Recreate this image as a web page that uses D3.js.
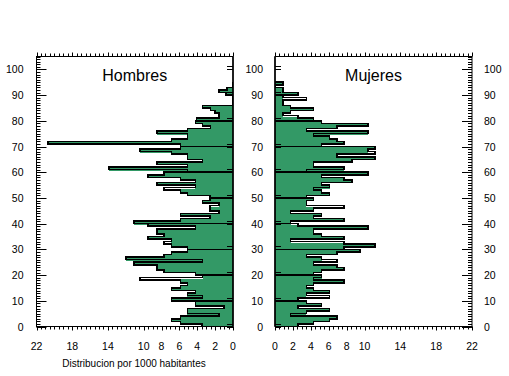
<!DOCTYPE html>
<html lang="en">
<head>
<meta charset="utf-8">
<title>Piramide</title>
<script type="text/javascript" src="https://cdn.jsdelivr.net/npm/d3@7"></script>
<style>
  body { margin: 0; background: #fff; }
  text { font-family: "Liberation Sans", Arial, sans-serif; fill: #000; }
</style>
</head>
<body>
<script type="text/javascript">

// values per single year of age, 0..94 (per 1000 inhabitants)
let hombres = [3.5, 5.9, 6.9, 5.9, 1.6, 5.1, 5.1, 1.0, 4.2, 4.2,
  6.9, 3.4, 5.1, 4.2, 6.9, 5.9, 5.1, 5.9, 10.4, 3.4,
  4.2, 7.7, 8.5, 8.5, 11.1, 3.4, 12.0, 7.7, 6.9, 5.1,
  5.1, 6.9, 7.7, 6.9, 9.5, 7.7, 8.5, 8.5, 4.2, 9.5,
  11.1, 5.9, 2.6, 5.9, 1.6, 2.6, 2.6, 1.6, 3.4, 2.6,
  2.6, 5.1, 5.9, 7.7, 4.2, 8.5, 4.2, 5.9, 9.5, 7.7,
  5.1, 13.9, 5.1, 8.5, 3.4, 5.1, 5.1, 6.9, 10.4, 5.9,
  5.9, 20.7, 6.9, 5.1, 5.1, 8.5, 5.1, 2.5, 3.4, 4.2,
  4.1, 1.6, 1.6, 2.0, 2.5, 3.4, 0, 0, 0, 0,
  0.8, 1.6, 0.7, 0, 0];

let mujeres = [2.6, 4.3, 6.1, 6.9, 1.75, 3.5, 6.1, 2.6, 5.2, 3.5,
  2.6, 6.1, 3.5, 6.1, 4.3, 3.5, 4.3, 7.7, 4.3, 5.2,
  4.3, 5.2, 7.7, 6.9, 4.3, 6.9, 5.2, 3.5, 6.9, 9.5,
  7.7, 11.2, 7.7, 1.75, 7.7, 5.2, 4.3, 4.3, 10.4, 2.6,
  1.75, 7.7, 4.3, 5.2, 1.75, 4.3, 7.7, 3.5, 3.5, 4.3,
  3.5, 6.1, 5.2, 4.3, 6.1, 5.2, 8.6, 7.7, 5.2, 10.4,
  3.5, 7.7, 4.3, 4.3, 8.6, 11.2, 6.9, 11.2, 10.4, 11.2,
  5.2, 7.7, 6.9, 6.1, 4.3, 10.4, 3.5, 6.9, 10.4, 5.2,
  4.3, 2.6, 0.9, 1.75, 4.3, 1.75, 0.9, 0.9, 3.5, 0.9,
  2.6, 0.9, 0.9, 0, 0.9];

let xTicks = [0, 2, 4, 6, 8, 10, 14, 18, 22];
let yTicks = [0, 10, 20, 30, 40, 50, 60, 70, 80, 90, 100];
let titles = ["Hombres", "Mujeres"];
let xLabel = "Distribucion por 1000 habitantes";

let w = 509;
let h = 376;
let plotTop = 56.5;
let plotBottom = 326.5;
let green = "#339966";

let svg = d3.select("body")
  .append("svg")
  .attr("width", w)
  .attr("height", h);

let yScale = d3.scaleLinear()
  .domain([0, 105])
  .range([plotBottom, plotTop]);

function drawPanel(values, x0, x1, reversed, title, idx) {

  let xScale = d3.scaleLinear()
    .domain([0, 22])
    .range(reversed ? [x1, x0] : [x0, x1]);
  let base = xScale(0);

  let g = svg.append("g");

  g.append("clipPath")
    .attr("id", "clip" + idx)
    .append("rect")
    .attr("x", x0).attr("y", plotTop)
    .attr("width", x1 - x0).attr("height", plotBottom - plotTop);

  let plot = g.append("g").attr("clip-path", "url(#clip" + idx + ")");

  // step points: each age covers [i, i+1]
  let pts = [];
  values.forEach((v, i) => { pts.push([v, i]); pts.push([v, i + 1]); });

  // fill, shifted a bit lower than the outline (as in the original plot)
  let shift = 0.35;
  let area = d3.area()
    .x0(base)
    .x1((d) => xScale(d[0]))
    .y((d) => yScale(d[1] - shift));
  plot.append("path")
    .attr("d", area(pts))
    .attr("fill", green)
    .attr("shape-rendering", "crispEdges");

  // step outline
  let line = d3.line()
    .x((d) => xScale(d[0]))
    .y((d) => yScale(d[1]));
  plot.append("path")
    .attr("d", line([[0, 0]].concat(pts, [[0, values.length]])))
    .attr("fill", "none")
    .attr("stroke", "#000")
    .attr("stroke-width", 1.6)
    .attr("shape-rendering", "crispEdges");

  // lines at each decade across the bars
  plot.selectAll("line.dec")
    .data(yTicks.filter((t) => t < values.length))
    .enter()
    .append("line")
    .attr("x1", base)
    .attr("x2", (d) => xScale(values[d]))
    .attr("y1", (d) => yScale(d))
    .attr("y2", (d) => yScale(d))
    .attr("stroke", "#000")
    .attr("stroke-width", 1.6)
    .attr("shape-rendering", "crispEdges");

  // frame
  g.append("rect")
    .attr("x", x0).attr("y", plotTop)
    .attr("width", x1 - x0).attr("height", plotBottom - plotTop)
    .attr("fill", "none")
    .attr("stroke", "#000")
    .attr("stroke-width", 1);
  g.append("line")
    .attr("x1", base).attr("x2", base)
    .attr("y1", plotTop).attr("y2", plotBottom)
    .attr("stroke", "#000").attr("stroke-width", 1.5);

  // top / bottom minor ticks every 0.5
  let xt = d3.range(0, 22.01, 0.5);
  g.selectAll("line.tb")
    .data(xt)
    .enter()
    .append("line")
    .attr("x1", (d) => Math.round(xScale(d)) + 0.5)
    .attr("x2", (d) => Math.round(xScale(d)) + 0.5)
    .attr("y1", plotTop)
    .attr("y2", (d) => plotTop - (xTicks.includes(d) ? 4 : 3))
    .attr("stroke", "#000");
  g.selectAll("line.bb")
    .data(xt)
    .enter()
    .append("line")
    .attr("x1", (d) => Math.round(xScale(d)) + 0.5)
    .attr("x2", (d) => Math.round(xScale(d)) + 0.5)
    .attr("y1", plotBottom)
    .attr("y2", (d) => plotBottom + (xTicks.includes(d) ? 4 : 3))
    .attr("stroke", "#000");

  // x tick labels
  g.selectAll("text.xl")
    .data(xTicks)
    .enter()
    .append("text")
    .attr("x", (d) => xScale(d))
    .attr("y", 350)
    .attr("text-anchor", "middle")
    .attr("font-size", 10.5)
    .text((d) => d);

  // outer y axis: minor ticks each year, long ticks every 10, labels
  let outer = reversed ? x0 : x1;
  let dir = reversed ? 1 : -1;
  g.selectAll("line.ym")
    .data(d3.range(0, 106))
    .enter()
    .append("line")
    .attr("x1", outer)
    .attr("x2", (d) => outer + dir * (d % 10 === 0 ? 10 : 4))
    .attr("y1", (d) => Math.round(yScale(d)) + 0.5)
    .attr("y2", (d) => Math.round(yScale(d)) + 0.5)
    .attr("stroke", "#000");
  g.selectAll("text.yl")
    .data(yTicks)
    .enter()
    .append("text")
    .attr("x", reversed ? x0 - 13 : x1 + 12)
    .attr("y", (d) => yScale(d) + 4)
    .attr("text-anchor", reversed ? "end" : "start")
    .attr("font-size", 10.5)
    .text((d) => d);

  // inner axis: double marks outside the frame
  g.selectAll("line.yd")
    .data(yTicks)
    .enter()
    .append("line")
    .attr("x1", base)
    .attr("x2", base - dir * 6)
    .attr("y1", (d) => Math.round(yScale(d)) + 0.5)
    .attr("y2", (d) => Math.round(yScale(d)) + 0.5)
    .attr("stroke", "#000");
  g.selectAll("line.yd2")
    .data(yTicks)
    .enter()
    .append("line")
    .attr("x1", base)
    .attr("x2", base - dir * 6)
    .attr("y1", (d) => Math.round(yScale(d)) - 2.5)
    .attr("y2", (d) => Math.round(yScale(d)) - 2.5)
    .attr("stroke", "#000");

  g.append("text")
    .attr("x", (x0 + x1) / 2)
    .attr("y", 81)
    .attr("text-anchor", "middle")
    .attr("font-size", 16)
    .text(title);

  return xScale;
}

drawPanel(hombres, 36.5, 233, true, titles[0], 0);
drawPanel(mujeres, 275, 472, false, titles[1], 1);

// labels for the inner axis of the right panel
svg.selectAll("text.mid")
  .data(yTicks)
  .enter()
  .append("text")
  .attr("x", 263)
  .attr("y", (d) => yScale(d) + 4)
  .attr("text-anchor", "end")
  .attr("font-size", 10.5)
  .text((d) => d);

svg.append("text")
  .attr("x", 134)
  .attr("y", 367)
  .attr("text-anchor", "middle")
  .attr("font-size", 10)
  .text(xLabel);

</script>
</body>
</html>
